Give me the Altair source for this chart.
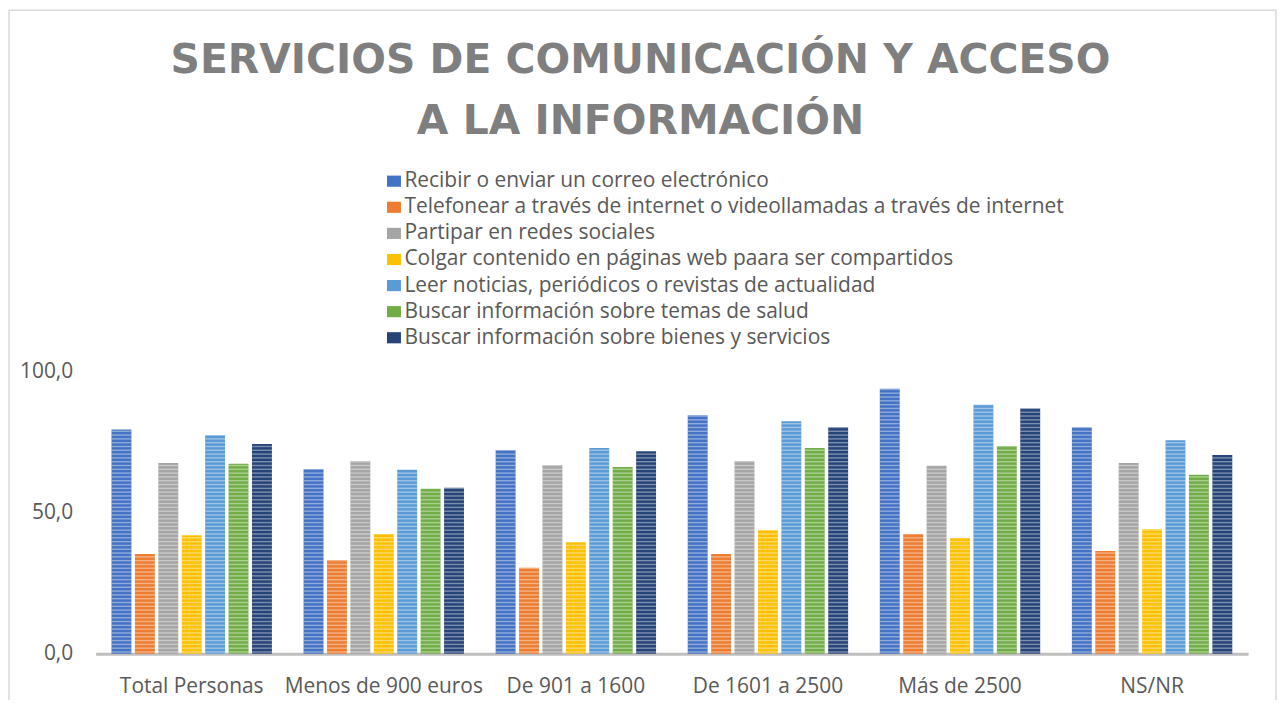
import altair as alt
import pandas as pd

categories = ["Total Personas", "Menos de 900 euros", "De 901 a 1600",
              "De 1601 a 2500", "Más de 2500", "NS/NR"]
series = [
    "Recibir o enviar un correo electrónico",
    "Telefonear a través de internet o videollamadas a través de internet",
    "Partipar en redes sociales",
    "Colgar contenido en páginas web paara ser compartidos",
    "Leer noticias, periódicos o revistas de actualidad",
    "Buscar información sobre temas de salud",
    "Buscar información sobre bienes y servicios",
]
colors = ["#4472C4", "#ED7D31", "#A5A5A5", "#FFC000", "#5B9BD5", "#70AD47", "#264478"]

correo = [79.6, 65.6, 72.3, 84.6, 94.0, 80.4]
telefonear = [35.4, 33.3, 30.5, 35.4, 42.5, 36.5]
redes = [67.7, 68.4, 67.0, 68.4, 66.7, 67.7]
colgar = [42.1, 42.5, 39.6, 43.9, 41.1, 44.2]
noticias = [77.5, 65.3, 73.0, 82.5, 88.4, 75.8]
salud = [67.4, 58.6, 66.3, 73.0, 73.7, 63.5]
bienes = [74.4, 58.9, 71.9, 80.4, 87.0, 70.5]

title_lines = ["SERVICIOS DE COMUNICACIÓN Y ACCESO", "A LA INFORMACIÓN"]

all_vals = [correo, telefonear, redes, colgar, noticias, salud, bienes]
rows = []
for s, vals in zip(series, all_vals):
    for c, v in zip(categories, vals):
        rows.append({"cat": c, "serie": s, "value": v})
df = pd.DataFrame(rows)

FONT = "Open Sans"
TXT = "#595959"

x_enc = alt.X("cat:N", sort=categories, title=None,
              scale=alt.Scale(paddingInner=0.165, paddingOuter=0.0825),
              axis=alt.Axis(labelAngle=0, labelFontSize=21, labelColor=TXT, labelFont=FONT,
                            ticks=False, domainColor="#bfbfbf", domainWidth=3,
                            labelPadding=22, labelLimit=400))
xo_enc = alt.XOffset("serie:N", sort=series, scale=alt.Scale(paddingInner=0.15))
y_scale = alt.Scale(domain=[0, 100], nice=False)

bars = alt.Chart(df).mark_bar().encode(
    x=x_enc,
    xOffset=xo_enc,
    y=alt.Y("value:Q", scale=y_scale, title=None,
            axis=alt.Axis(values=[0, 50, 100], labelFontSize=21, labelColor=TXT, labelFont=FONT,
                          labelExpr="replace(format(datum.value, '.1f'), '.', ',')",
                          domain=False, ticks=False, grid=False, labelPadding=23)),
    color=alt.Color("serie:N", sort=series,
                    scale=alt.Scale(domain=series, range=colors),
                    legend=alt.Legend(orient="none", legendX=289, legendY=-202, title=None,
                                      symbolType="M-1,-0.8H1V0.8H-1Z", symbolSize=196,
                                      symbolStrokeWidth=0, labelFontSize=21, labelColor=TXT,
                                      labelFont=FONT, rowPadding=4.2, labelOffset=0,
                                      labelLimit=900, padding=0)),
)

stripes = alt.Chart(df).transform_calculate(
    s0="sequence(0.4, datum.value, 1.35)"
).transform_flatten(["s0"]).transform_calculate(
    s1="min(datum.s0 + 0.5, datum.value)"
).mark_bar(color="white", opacity=0.4).encode(
    x=alt.X("cat:N", sort=categories),
    xOffset=xo_enc,
    y=alt.Y("s0:Q", scale=y_scale),
    y2="s1:Q",
)

one = pd.DataFrame({"k": [0]})
title = alt.Chart(one).mark_text(
    text=title_lines, font="DejaVu Sans", fontWeight="bold", fontSize=41, color="#7f7f7f",
    align="center", baseline="alphabetic", lineHeight=61
).encode(x=alt.value(547), y=alt.value(-300))

border = alt.Chart(one).mark_rect(filled=False, stroke="#d9d9d9", strokeWidth=1.5).encode(
    x=alt.value(-87), x2=alt.value(1185), y=alt.value(-363), y2=alt.value(400)
)

chart = alt.layer(border, bars, stripes, title).properties(
    width=1157, height=283, background="white",
    autosize=alt.AutoSizeParams(type="none"),
    padding={"left": 88, "top": 364, "right": 30, "bottom": 45},
).configure_view(strokeWidth=0, stroke="transparent")

chart.save("out.html", embed_options={"renderer": "svg", "actions": False})
